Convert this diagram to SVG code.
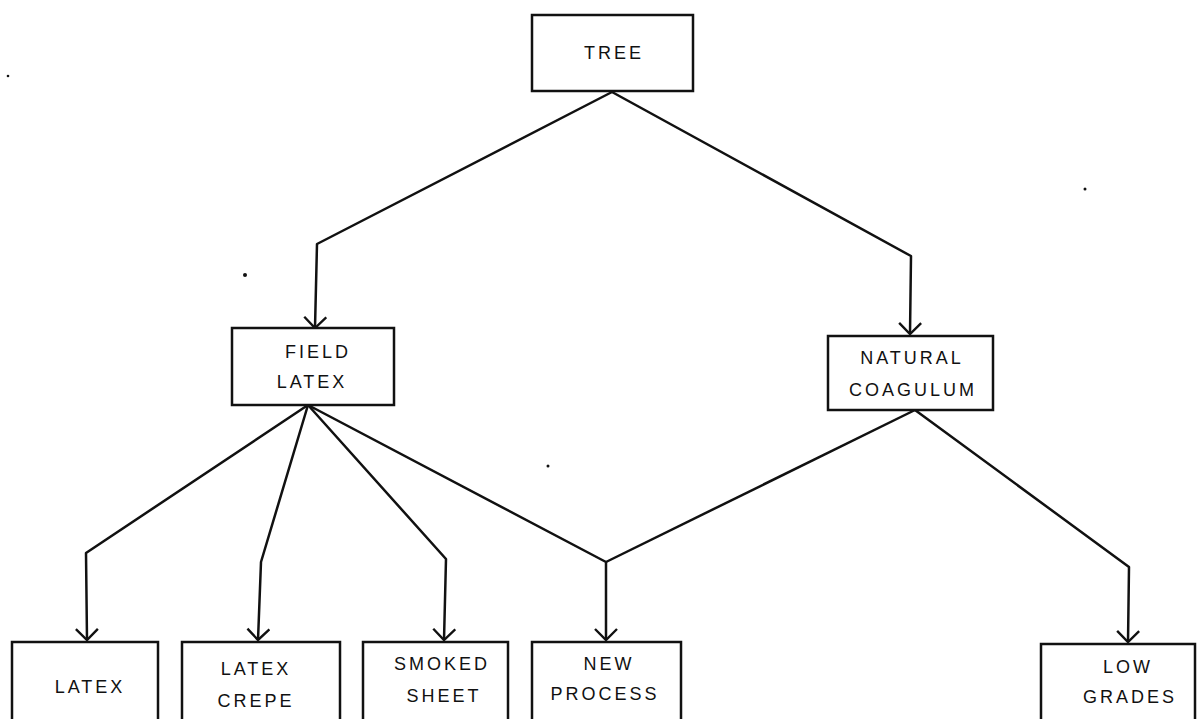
<svg xmlns="http://www.w3.org/2000/svg" width="1199" height="719" viewBox="0 0 1199 719">
<defs>
<style>
.box{fill:#fff;stroke:#111;stroke-width:2.5}
.t{font-family:"Liberation Sans",Arial,sans-serif;font-size:18px;fill:#111;text-anchor:middle;letter-spacing:3px}
.c{fill:none;stroke:#111;stroke-width:2.5;stroke-linejoin:round}
.dot{fill:#111}
</style>
<marker id="ah" viewBox="0 0 20 24" refX="18" refY="12" markerWidth="20" markerHeight="24" markerUnits="userSpaceOnUse" orient="auto">
<path d="M7,1 L18,12 L7,23" fill="none" stroke="#111" stroke-width="2.4"/>
</marker>
</defs>
<rect width="1199" height="719" fill="#fff"/>
<g id="connectors">
<path class="c" d="M612,92 L317,244 L315,328" marker-end="url(#ah)"/>
<path class="c" d="M612,92 L911,256 L910,334" marker-end="url(#ah)"/>
<path class="c" d="M308,405 L86,553 L87,640" marker-end="url(#ah)"/>
<path class="c" d="M308,405 L261,562 L258,640" marker-end="url(#ah)"/>
<path class="c" d="M308,405 L446,559 L444,640" marker-end="url(#ah)"/>
<path class="c" d="M308,405 L606,562 L606,640" marker-end="url(#ah)"/>
<path class="c" d="M915,410 L606,562"/>
<path class="c" d="M915,410 L1129,567 L1128,642" marker-end="url(#ah)"/>
</g>
<g id="tree"><rect class="box" x="532" y="15" width="161" height="76"/><text class="t" x="614" y="59">TREE</text></g>
<g id="field-latex"><rect class="box" x="232" y="328" width="162" height="77"/><text class="t" x="318" y="358">FIELD</text><text class="t" x="312" y="388">LATEX</text></g>
<g id="natural-coagulum"><rect class="box" x="828" y="336" width="165" height="74"/><text class="t" x="912" y="364">NATURAL</text><text class="t" x="913" y="396">COAGULUM</text></g>
<g id="latex"><rect class="box" x="12" y="642" width="146" height="90"/><text class="t" x="90" y="693">LATEX</text></g>
<g id="latex-crepe"><rect class="box" x="182" y="642" width="158" height="90"/><text class="t" x="256" y="675">LATEX</text><text class="t" x="256" y="707">CREPE</text></g>
<g id="smoked-sheet"><rect class="box" x="363" y="642" width="145" height="90"/><text class="t" x="442" y="670">SMOKED</text><text class="t" x="444" y="702">SHEET</text></g>
<g id="new-process"><rect class="box" x="532" y="642" width="149" height="90"/><text class="t" x="609" y="670">NEW</text><text class="t" x="605" y="700">PROCESS</text></g>
<g id="low-grades"><rect class="box" x="1041" y="644" width="154" height="90"/><text class="t" x="1128" y="673">LOW</text><text class="t" x="1130" y="703">GRADES</text></g>
<g id="specks">
<circle class="dot" cx="245" cy="275" r="2"/>
<circle class="dot" cx="548" cy="466" r="1.5"/>
<circle class="dot" cx="8" cy="76" r="1.3"/>
<circle class="dot" cx="1085" cy="189" r="1.5"/>
</g>
</svg>
